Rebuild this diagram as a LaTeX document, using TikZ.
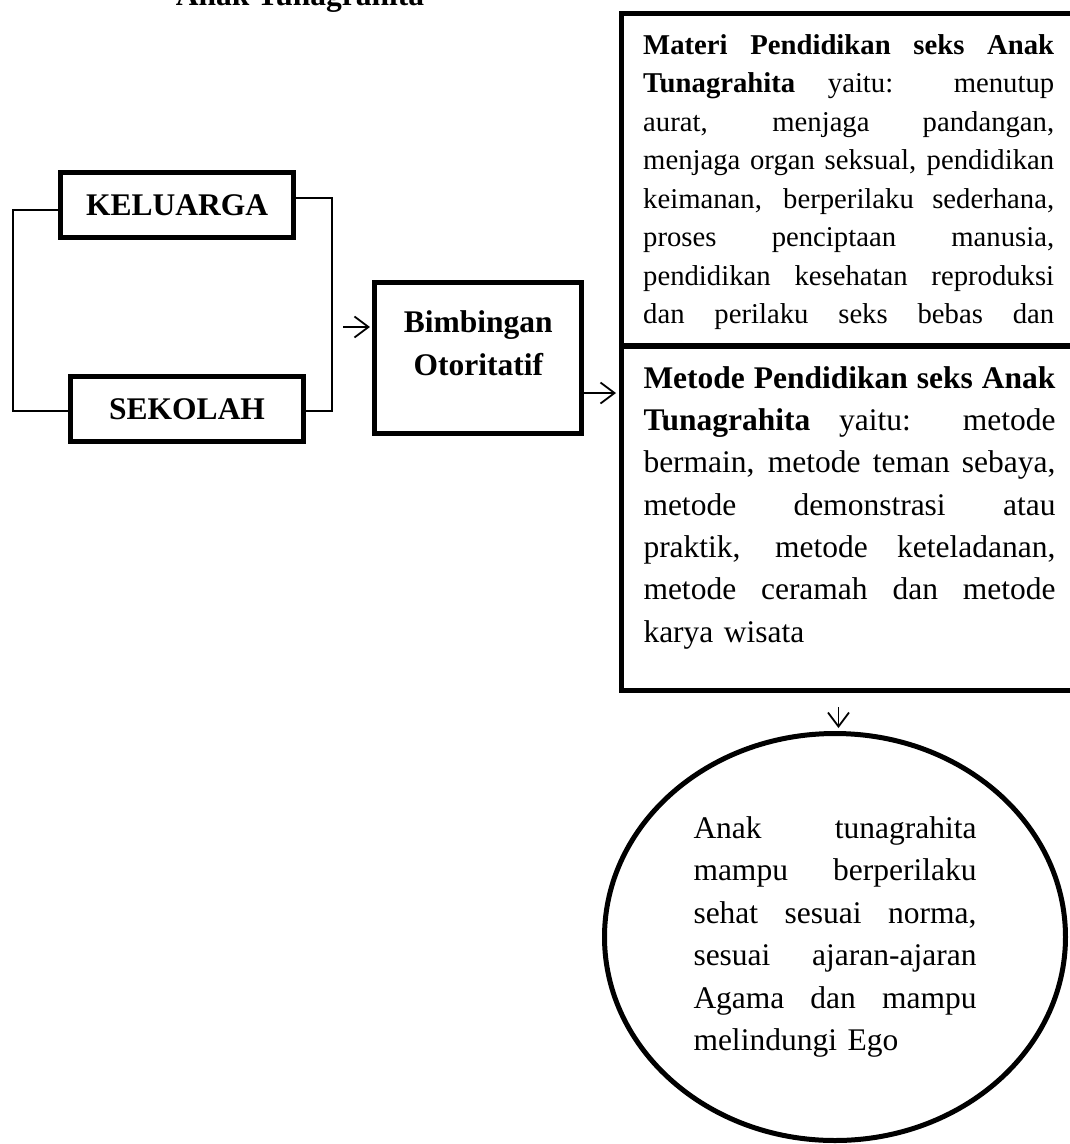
\documentclass[tikz,border=0pt]{standalone}
\usepackage{fontspec}
\setmainfont{Liberation Serif}
\usetikzlibrary{arrows.meta,shapes.geometric}

\newcommand{\jl}[2]{{\spaceskip=0pt\xspaceskip=0pt\makebox[#1][s]{#2}}}

\begin{document}
\begin{tikzpicture}[x=1pt,y=-1pt,
  thickbox/.style={draw, line width=5pt, rectangle, inner sep=0pt},
  bracketline/.style={line width=1.6pt},
  arr/.style={line width=1.8pt, -{Straight Barb[length=14pt,width=21pt]}},
  txt/.style={inner sep=0pt, anchor=north west, align=left},
  boldbig/.style={font=\bfseries\fontsize{31.5}{38}\selectfont},
]
\useasboundingbox (0,0) rectangle (1070,1144);
\fill[white] (0,0) rectangle (1070,1144);
\clip (0,0) rectangle (1070,1144);

% title (cut off at the top, as in the reference)
\node[boldbig, anchor=base, inner sep=0pt] (title) at (300,5) {Anak Tunagrahita};

% left boxes
\node[thickbox, boldbig, minimum width=233pt, minimum height=65pt] (kel) at (177.2,204.8) {KELUARGA};
\node[thickbox, boldbig, minimum width=233.2pt, minimum height=65.3pt] (sek) at (187.1,409.3) {SEKOLAH};

% brackets
\coordinate (ylk) at (0,210);
\coordinate (yrk) at (0,198);
\coordinate (ys) at (0,411);
\coordinate (lb) at (13,0);
\coordinate (rb) at (332,0);
\draw[bracketline] (kel.west |- ylk) -| (lb |- ys) -- (sek.west |- ys);
\draw[bracketline] (kel.east |- yrk) -| (rb |- ys) -- (sek.east |- ys);

% Bimbingan box
\node[thickbox, minimum width=206.7pt, minimum height=150.5pt] (bimb) at (478.3,357.75) {};
\node[txt, anchor=north, align=center, font=\bfseries\fontsize{31.5}{43}\selectfont] (bimbt) at (478.3,310.3) {Bimbingan\\Otoritatif};

% arrow into Bimbingan
\coordinate (a1) at (343,327);
\draw[arr, shorten >=2.5pt] (a1) -- (a1 -| bimb.west);

% right boxes
\node[thickbox, minimum width=459pt, minimum height=332pt] (materi) at (850.5,179) {};
\node[thickbox, minimum width=459pt, minimum height=343.5pt] (metode) at (850.5,518.25) {};

\node[txt, text width=411pt, font=\fontsize{28.7}{38.5}\selectfont] (materit) at (643,34.3) {%
\jl{411pt}{\textbf{Materi Pendidikan seks Anak}}\\
\jl{411pt}{\textbf{Tunagrahita} yaitu: menutup}\\
\jl{411pt}{aurat, menjaga pandangan,}\\
\jl{411pt}{menjaga organ seksual, pendidikan}\\
\jl{411pt}{keimanan, berperilaku sederhana,}\\
\jl{411pt}{proses penciptaan manusia,}\\
\jl{411pt}{pendidikan kesehatan reproduksi}\\
\jl{411pt}{dan perilaku seks bebas dan}};

\node[txt, text width=412pt, font=\fontsize{31.5}{42.3}\selectfont] (metodet) at (643.3,366.3) {%
\jl{412pt}{\textbf{Metode Pendidikan seks Anak}}\\
\jl{412pt}{\textbf{Tunagrahita} yaitu: metode}\\
\jl{412pt}{bermain, metode teman sebaya,}\\
\jl{412pt}{metode demonstrasi atau}\\
\jl{412pt}{praktik, metode keteladanan,}\\
\jl{412pt}{metode ceramah dan metode}\\
karya wisata};

% arrow Bimbingan -> Metode
\coordinate (y393) at (0,393);
\draw[arr, shorten >=2.5pt] (bimb.east |- y393) -- (metode.west |- y393);

% ellipse
\node[draw, ellipse, line width=5pt, minimum width=461pt, minimum height=407pt, inner sep=0pt,
      text width=283pt, align=left, font=\fontsize{31.5}{42.4}\selectfont] (el) at (835,937) {%
\jl{283pt}{Anak tunagrahita}\\
\jl{283pt}{mampu berperilaku}\\
\jl{283pt}{sehat sesuai norma,}\\
\jl{283pt}{sesuai ajaran-ajaran}\\
\jl{283pt}{Agama dan mampu}\\
melindungi Ego};

% arrow into ellipse
\coordinate (a3) at (838.5,707);
\draw[arr, shorten >=3pt] (a3) -- (a3 |- el.north);
\end{tikzpicture}
\end{document}
